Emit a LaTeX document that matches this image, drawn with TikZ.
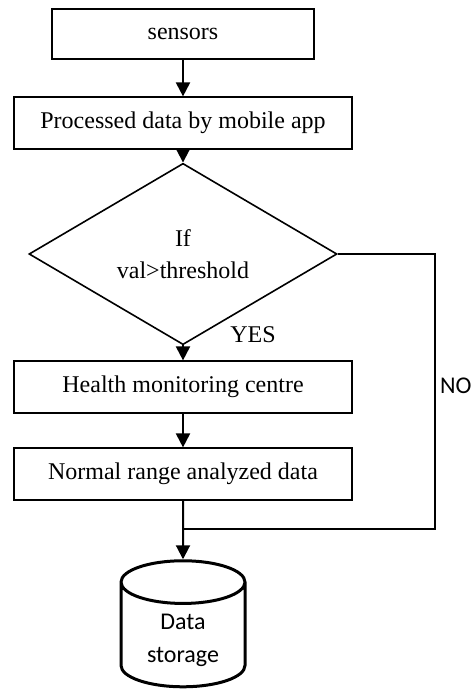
\documentclass[tikz,border=0pt]{standalone}
\usepackage{fontspec}
\setmainfont{Liberation Serif}
\newfontfamily\calibri{Carlito}
\usetikzlibrary{shapes.geometric,arrows.meta}
\tikzset{
  stepbox/.style={draw, line width=0.6pt, minimum width=169pt, minimum height=26pt,
    font=\fontsize{12}{14}\selectfont},
  flow/.style={-{Triangle[width=7pt,length=7pt]}, line width=1pt},
  noline/.style={line width=0.8pt},
}
\begin{document}
\begin{tikzpicture}[x=0.5pt,y=-0.5pt]
  \useasboundingbox (0,0) rectangle (473,697);
  \node[stepbox, minimum width=131pt, minimum height=25pt] (sensors) at (183,34) {sensors};
  \node[stepbox] (proc) at (183,123) {Processed data by mobile app};
  \node[draw, diamond, line width=0.8pt, minimum width=154pt, minimum height=70pt,
    inner sep=0pt, align=center, font=\fontsize{12}{16}\selectfont] (cond) at (183,254)
    {If\\val>threshold};
  \node[stepbox] (hmc) at (183,387) {Health monitoring centre};
  \node[stepbox] (normal) at (183,474) {Normal range analyzed data};
  \node[draw, cylinder, shape border rotate=90, aspect=0.5, line width=1.5pt,
    minimum width=62pt, minimum height=63pt, align=center,
    font=\calibri\fontsize{12}{16.5}\selectfont] (store) at (183,640) {Data\\storage};
  \coordinate (join) at (183,529);
  \coordinate (nobend) at (435,529);
  \node[font=\fontsize{12}{14}\selectfont] (yes) at (253,335) {YES};
  \node[anchor=east, inner sep=0pt, font=\calibri\fontsize{12}{14}\selectfont] (no) at (472,386) {NO};
  \draw[flow] (sensors) -- (proc);
  \draw[flow] (proc) -- (cond);
  \draw[flow] (cond) -- (hmc);
  \draw[flow] (hmc) -- (normal);
  \draw[flow] (normal) -- (store);
  \draw[noline] (cond.east) -| (nobend) -- (join);
\end{tikzpicture}
\end{document}
